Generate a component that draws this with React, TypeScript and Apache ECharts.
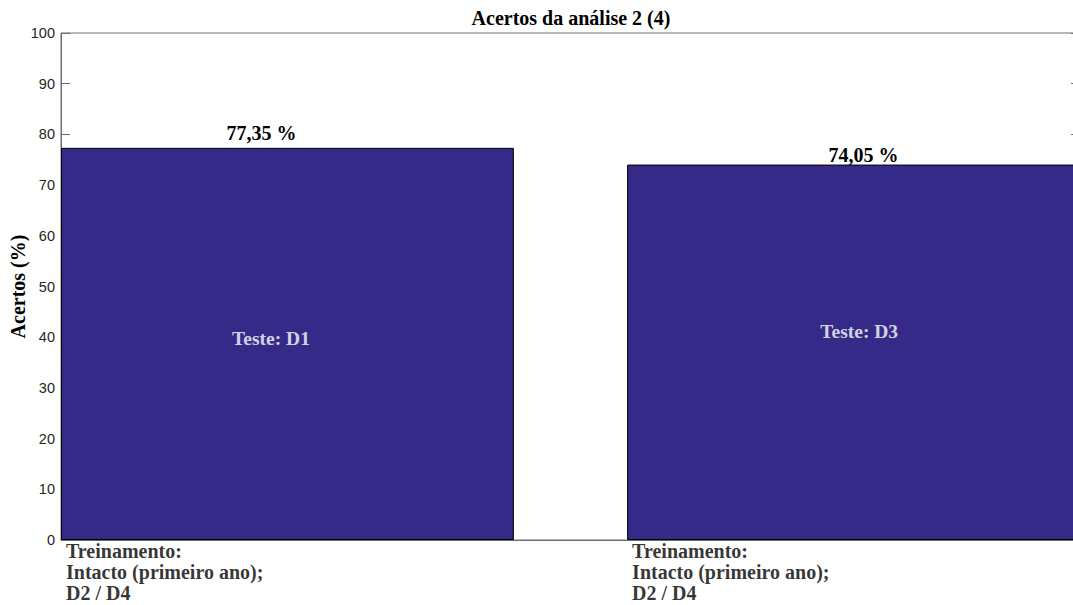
import React, { useEffect, useRef } from "react";
import * as echarts from "echarts";

// ---- data ----
const barX = [1, 2];
const barValues = [77.35, 74.05];
const valueLabels = ["77,35 %", "74,05 %"];
const testLabels = ["Teste: D1", "Teste: D3"];
const categoryLabels = [
  "Treinamento:\nIntacto (primeiro ano);\nD2 / D4",
  "Treinamento:\nIntacto (primeiro ano);\nD2 / D4",
];
// annotation anchor positions (data units)
const testLabelPos = [
  [0.971, 39.84],
  [2.01, 41.22],
];
const valueLabelOffsets = [
  [-26, 0],
  [10, 5],
];

const TITLE = "Acertos da análise 2 (4)";
const Y_NAME = "Acertos (%)";

const W = 1073;
const H = 605;
const INNER_W = 1090; // plot extends past the visible page on the right
const GRID_LEFT = 61;
const GRID_TOP = 33;
const GRID_RIGHT = INNER_W - 1080;
const GRID_BOTTOM = 65;
const X_MIN = 0.6;
const X_MAX = 2.4;
const BAR_FRACTION = 0.8;

const SERIF = "'Liberation Serif', 'Times New Roman', serif";
const SANS = "'Liberation Sans', Arial, sans-serif";
const BAR_COLOR = "#352a87";
const AXIS_COLOR = "#6e6e6e";

export default function App() {
  const ref = useRef<HTMLDivElement>(null);

  useEffect(() => {
    document.body.style.margin = "0";
    if (!ref.current) return;
    const chart = echarts.init(ref.current, undefined, { renderer: "svg" });
    const plotW = INNER_W - GRID_LEFT - GRID_RIGHT;
    const barWidth = (plotW / (X_MAX - X_MIN)) * BAR_FRACTION;

    chart.setOption({
      animation: false,
      backgroundColor: "#ffffff",
      title: {
        text: TITLE,
        left: 566,
        top: 3,
        textAlign: "center",
        textStyle: {
          fontFamily: SERIF,
          fontWeight: "bold",
          fontSize: 20,
          color: "#000",
        },
      },
      grid: {
        left: GRID_LEFT,
        top: GRID_TOP,
        right: GRID_RIGHT,
        bottom: GRID_BOTTOM,
        containLabel: false,
        outerBoundsMode: "none",
        show: true,
        borderColor: AXIS_COLOR,
        borderWidth: 1,
        backgroundColor: "transparent",
      },
      xAxis: {
        type: "value",
        min: X_MIN,
        max: X_MAX,
        axisLine: { show: true, lineStyle: { color: AXIS_COLOR } },
        axisTick: { show: false },
        axisLabel: { show: false },
        splitLine: { show: false },
      },
      yAxis: [
        {
          type: "value",
          min: 0,
          max: 100,
          interval: 10,
          name: Y_NAME,
          nameLocation: "middle",
          nameRotate: 90,
          nameGap: 33.5,
          nameMoveOverlap: false,
          nameTextStyle: {
            fontFamily: SERIF,
            fontWeight: "bold",
            fontSize: 20,
            color: "#000",
          },
          axisLine: { show: true, lineStyle: { color: AXIS_COLOR } },
          axisTick: {
            show: true,
            inside: true,
            length: 9,
            lineStyle: { color: AXIS_COLOR },
          },
          axisLabel: {
            fontFamily: SANS,
            fontSize: 14.5,
            color: "#262626",
            margin: 6,
          },
          splitLine: { show: false },
        },
        {
          type: "value",
          min: 0,
          max: 100,
          interval: 10,
          position: "right",
          axisLine: { show: true, lineStyle: { color: AXIS_COLOR } },
          axisTick: {
            show: true,
            inside: true,
            length: 9,
            lineStyle: { color: AXIS_COLOR },
          },
          axisLabel: { show: false },
          splitLine: { show: false },
        },
      ],
      series: [
        {
          type: "bar",
          barWidth,
          data: barX.map((x, i) => ({
            value: [x, barValues[i]],
            label: {
              show: true,
              position: "top",
              distance: 5,
              offset: valueLabelOffsets[i],
              formatter: valueLabels[i],
              fontFamily: SERIF,
              fontWeight: "bold",
              fontSize: 20,
              color: "#000",
            },
          })),
          itemStyle: {
            color: BAR_COLOR,
            borderColor: "#000",
            borderWidth: 1,
          },
          z: 2,
        },
        {
          type: "scatter",
          symbolSize: 0,
          data: testLabelPos.map((p, i) => ({
            value: p,
            label: {
              show: true,
              position: "inside",
              formatter: testLabels[i],
              fontFamily: SERIF,
              fontWeight: "bold",
              fontSize: 19.5,
              color: "#ffffff",
            },
          })),
          z: 5,
        },
        {
          type: "scatter",
          symbolSize: 0,
          data: barX.map((x, i) => ({
            value: [x - BAR_FRACTION / 2, 0],
            label: {
              show: true,
              position: "inside",
              align: "left",
              verticalAlign: "top",
              offset: [5, 0],
              formatter: categoryLabels[i],
              fontFamily: SERIF,
              fontWeight: "bold",
              fontSize: 20,
              lineHeight: 21.3,
              color: "#000",
            },
          })),
          z: 5,
        },
      ],
    });

    return () => chart.dispose();
  }, []);

  return (
    <div style={{ width: W, height: H, overflow: "hidden", position: "relative" }}>
      <div ref={ref} style={{ width: INNER_W, height: H }} />
    </div>
  );
}
